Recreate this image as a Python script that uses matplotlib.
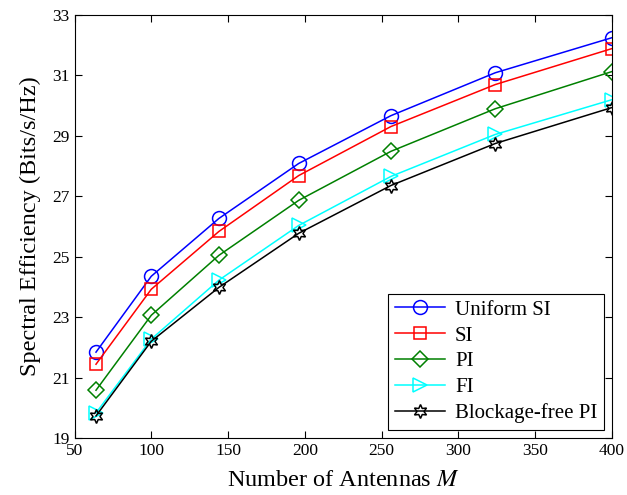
import matplotlib
matplotlib.use("Agg")
import matplotlib.pyplot as plt

plt.rcParams['font.family'] = ['Liberation Serif', 'DejaVu Serif']
plt.rcParams['mathtext.fontset'] = 'stix'

antennas = [64, 100, 144, 196, 256, 324, 400]
uniform_si = [21.84, 24.35, 26.26, 28.08, 29.66, 31.08, 32.24]
si = [21.44, 23.92, 25.83, 27.68, 29.30, 30.69, 31.88]
pi = [20.58, 23.06, 25.04, 26.86, 28.48, 29.89, 31.12]
fi = [19.83, 22.27, 24.22, 26.03, 27.65, 29.04, 30.19]
blockage_free_pi = [19.73, 22.20, 23.98, 25.77, 27.35, 28.74, 29.93]

fig = plt.figure(figsize=(6.27, 4.95), dpi=100)
ax = fig.add_axes([74.5 / 627, (495 - 438) / 495, 537.5 / 627, 423.3 / 495])

style = dict(lw=1.1, ms=10, mfc='none', mew=1.1)
ax.plot(antennas, uniform_si, color='blue', marker='o', label='Uniform SI', **style)
ax.plot(antennas, si, color='red', marker='s', label='SI', **{**style, 'ms': 9})
ax.plot(antennas, pi, color='green', marker='D', label='PI', **{**style, 'ms': 8})
ax.plot(antennas, fi, color='cyan', marker='>', label='FI', **style)
ax.plot(antennas, blockage_free_pi, color='black', marker=(6, 1, 0), label='Blockage-free PI', **style)

ax.set_xlim(50, 400)
ax.set_ylim(19, 33)
ax.set_xticks(range(50, 401, 50))
ax.set_yticks(range(19, 34, 2))
ax.tick_params(direction='in', top=True, right=True, labelsize=12.5, length=5)
ax.set_xlabel('Number of Antennas $M$', fontsize=17.5, labelpad=8)
ax.set_ylabel('Spectral Efficiency (Bits/s/Hz)', fontsize=17.5, labelpad=8)

leg = ax.legend(loc='lower right', fontsize=15, fancybox=False, framealpha=1,
                edgecolor='black', borderaxespad=0.4, handlelength=2.4,
                labelspacing=0.3, borderpad=0.3, handletextpad=0.5)
leg.get_frame().set_linewidth(0.8)

fig.savefig('out.png', dpi=100)
